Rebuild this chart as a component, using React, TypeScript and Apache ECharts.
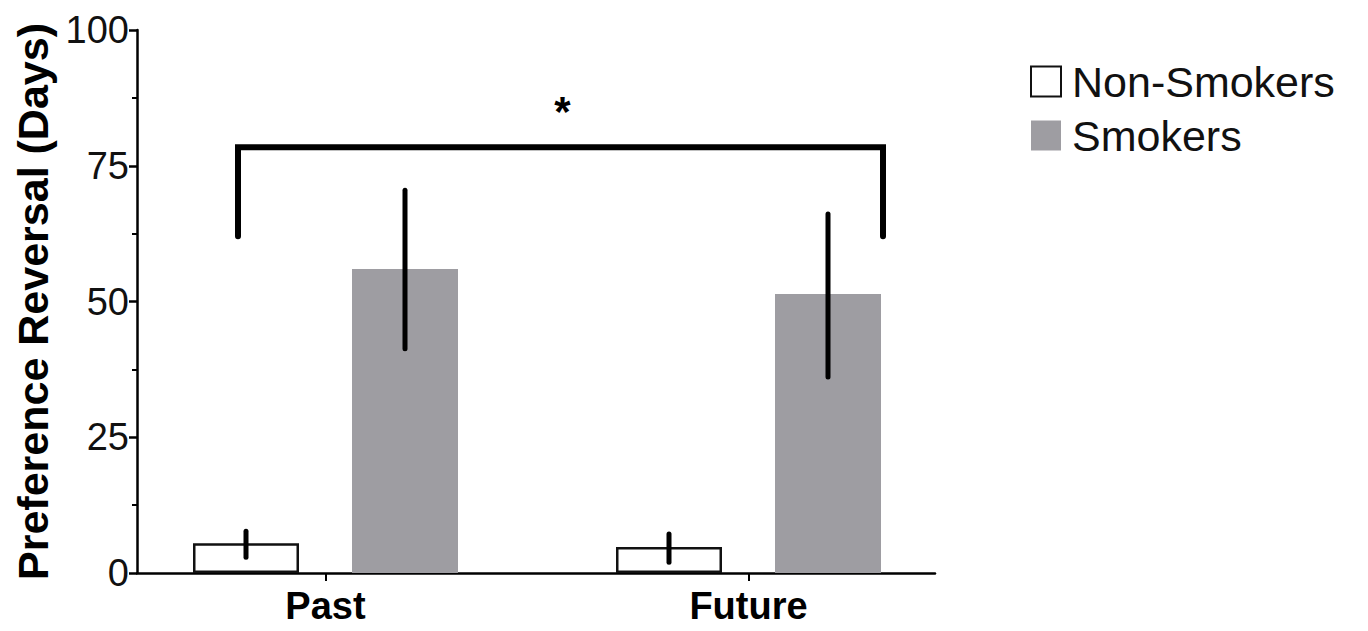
import React, { useEffect, useRef } from "react";
import * as echarts from "echarts";

const categories = ["Past", "Future"];
const seriesNames = ["Non-Smokers", "Smokers"];
const nonSmokers = [5.5, 4.8];
const nonSmokersLow = [2.9, 2.0];
const nonSmokersHigh = [7.7, 7.2];
const smokers = [56.0, 51.4];
const smokersLow = [41.3, 36.1];
const smokersHigh = [70.5, 66.1];
const yTicks = [0, 25, 50, 75, 100];
const bracketTop = 78.4;
const bracketEnd = 62;
const significance = "*";

const FONT = "'Liberation Sans', Arial, Helvetica, sans-serif";
const BAR_W = 106;
const GAP_RATIO = 0.5;
const OFFSET = (BAR_W * (1 + GAP_RATIO)) / 2;

export default function App() {
  const ref = useRef<HTMLDivElement>(null);
  useEffect(() => {
    document.body.style.margin = "0";
    if (!ref.current) return;
    const chart = echarts.init(ref.current, null, { renderer: "svg" });

    const errSeries = (
      name: string,
      lows: number[],
      highs: number[],
      sign: number
    ) => ({
      type: "custom",
      name: name + " err",
      xAxisIndex: 1,
      yAxisIndex: 1,
      silent: true,
      z: 5,
      data: categories.map((_, i) => [i, lows[i], highs[i]]),
      renderItem: (params: any, api: any) => {
        const c = api.value(0);
        const lo = api.coord([c, api.value(1)]);
        const hi = api.coord([c, api.value(2)]);
        const x = lo[0] + sign * OFFSET;
        return {
          type: "line",
          shape: { x1: x, y1: lo[1], x2: x, y2: hi[1] },
          style: { stroke: "#000", lineWidth: 5, lineCap: "round" },
        };
      },
    });

    const option: any = {
      animation: false,
      textStyle: { fontFamily: FONT },
      grid: [
        { left: 137, top: 30, width: 798, height: 543 },
        { left: 114, top: 30, width: 846, height: 543 },
      ],
      legend: {
        data: seriesNames,
        orient: "vertical",
        left: 1025,
        top: 55,
        icon: "rect",
        itemWidth: 30,
        itemHeight: 30,
        itemGap: 11,
        textStyle: {
          fontSize: 43,
          color: "#111",
          fontFamily: FONT,
          padding: [0, 0, 0, 6],
        },
        selectedMode: false,
      },
      xAxis: [
        {
          type: "value",
          gridIndex: 0,
          min: 0,
          max: 1,
          axisLine: { show: true, lineStyle: { color: "#000", width: 2.5 } },
          axisTick: { show: false },
          axisLabel: { show: false },
          splitLine: { show: false },
        },
        {
          type: "category",
          gridIndex: 1,
          data: categories,
          axisLine: { show: false },
          axisTick: {
            show: true,
            alignWithLabel: true,
            length: 8,
            lineStyle: { color: "#000", width: 2 },
          },
          axisLabel: {
            fontSize: 38,
            fontWeight: "bold",
            color: "#000",
            fontFamily: FONT,
            margin: 14,
          },
        },
      ],
      yAxis: [
        {
          type: "value",
          gridIndex: 0,
          min: 0,
          max: 100,
          interval: 25,
          name: "Preference Reversal (Days)",
          nameLocation: "middle",
          nameGap: 80,
          nameTextStyle: {
            fontSize: 43,
            fontWeight: "bold",
            color: "#000",
            fontFamily: FONT,
          },
          axisLine: { show: true, lineStyle: { color: "#000", width: 2.5 } },
          axisTick: { show: true, length: 8, lineStyle: { color: "#000", width: 2.5 } },
          minorTick: { show: true, splitNumber: 2, length: 5, lineStyle: { color: "#000", width: 2 } },
          axisLabel: {
            fontSize: 38,
            color: "#111",
            fontFamily: FONT,
            margin: 8,
            formatter: (v: number) => (yTicks.includes(v) ? String(v) : ""),
          },
          splitLine: { show: false },
        },
        {
          type: "value",
          gridIndex: 1,
          min: 0,
          max: 100,
          show: false,
        },
      ],
      series: [
        {
          type: "bar",
          name: seriesNames[0],
          xAxisIndex: 1,
          yAxisIndex: 1,
          barWidth: BAR_W,
          barGap: "50%",
          data: nonSmokers,
          itemStyle: { color: "#ffffff", borderColor: "#111", borderWidth: 2.5 },
        },
        {
          type: "bar",
          name: seriesNames[1],
          xAxisIndex: 1,
          yAxisIndex: 1,
          barWidth: BAR_W,
          barGap: "50%",
          data: smokers,
          itemStyle: { color: "#9e9da2" },
        },
        errSeries(seriesNames[0], nonSmokersLow, nonSmokersHigh, -1),
        errSeries(seriesNames[1], smokersLow, smokersHigh, 1),
        {
          type: "custom",
          name: "bracket",
          xAxisIndex: 1,
          yAxisIndex: 1,
          silent: true,
          z: 6,
          data: [[0, 1, bracketTop, bracketEnd]],
          renderItem: (params: any, api: any) => {
            const a = api.coord([api.value(0), api.value(2)]);
            const b = api.coord([api.value(1), api.value(2)]);
            const e = api.coord([api.value(0), api.value(3)]);
            const xl = a[0] - OFFSET - 8;
            const xr = b[0] + OFFSET + BAR_W / 2 + 2;
            return {
              type: "group",
              children: [
                {
                  type: "polyline",
                  shape: {
                    points: [
                      [xl, e[1]],
                      [xl, a[1]],
                      [xr, a[1]],
                      [xr, e[1]],
                    ],
                  },
                  style: {
                    stroke: "#000",
                    lineWidth: 6,
                    fill: null,
                    lineCap: "round",
                    lineJoin: "miter",
                  },
                },
                {
                  type: "text",
                  x: (xl + xr) / 2 + 2,
                  y: a[1] - 36,
                  style: {
                    text: significance,
                    fontSize: 42,
                    fontWeight: "bold",
                    fontFamily: FONT,
                    fill: "#000",
                    align: "center",
                    verticalAlign: "middle",
                  },
                },
              ],
            };
          },
        },
      ],
    };
    chart.setOption(option);
    return () => chart.dispose();
  }, []);
  return <div ref={ref} style={{ width: 1368, height: 631 }} />;
}
